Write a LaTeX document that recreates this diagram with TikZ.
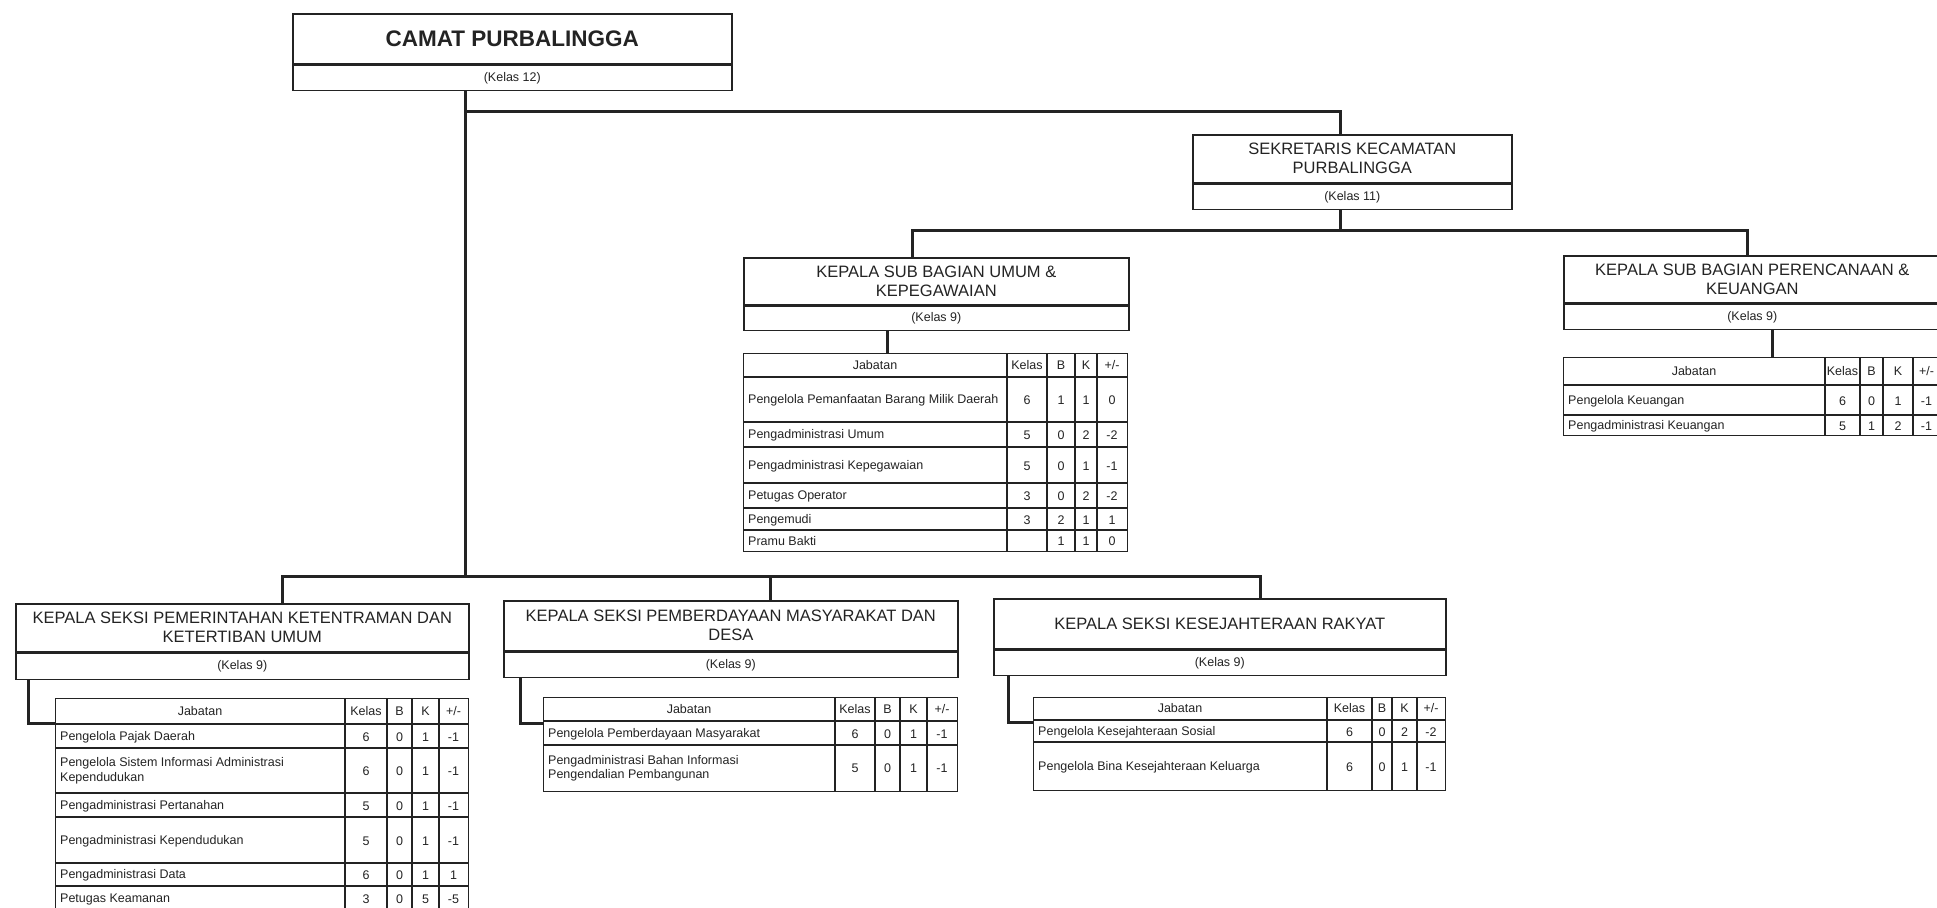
\documentclass[tikz,border=0pt]{standalone}
\usepackage{fontspec}
\setmainfont{Liberation Sans}
\usepackage{tikz}
\usetikzlibrary{positioning}
\definecolor{ink}{RGB}{35,35,35}

\begin{document}
\begin{tikzpicture}[x=1pt,y=-1pt,
  head/.style={draw=ink,line width=1.6pt,anchor=north west,inner sep=0pt,
     align=center,text=ink,font=\fontsize{16.5}{19}\selectfont},
  kls/.style={draw=ink,line width=1.6pt,anchor=north west,inner sep=0pt,
     text=ink,font=\fontsize{12.5}{14}\selectfont},
  link/.style={draw=ink,line width=3pt},
  tframe/.style={draw=ink,line width=1.4pt,anchor=north west,inner sep=0pt},
  tline/.style={draw=ink,line width=1.2pt},
  tsep/.style={draw=ink,line width=2.2pt},
  cell/.style={inner sep=0pt,text=ink,font=\fontsize{12.5}{14.5}\selectfont},
  jab/.style={cell,anchor=west,align=left},
  num/.style={cell,anchor=center}]
\useasboundingbox (0,0) rectangle (1937,907);

% boxes
\node[head,minimum width=439pt,minimum height=50pt,
  font=\bfseries\fontsize{22.5}{26}\selectfont] (camat) at (292,13) {CAMAT PURBALINGGA};
\node[kls,minimum width=439pt,minimum height=25pt] (camatk) at (camat.south west) {(Kelas 12)};
\node[head,minimum width=319pt,minimum height=48pt] (sekr) at (1192,134) {SEKRETARIS KECAMATAN\\PURBALINGGA};
\node[kls,minimum width=319pt,minimum height=25pt] (sekrk) at (sekr.south west) {(Kelas 11)};
\node[head,minimum width=385pt,minimum height=47pt] (umum) at (743,257) {KEPALA SUB BAGIAN UMUM \&\\KEPEGAWAIAN};
\node[kls,minimum width=385pt,minimum height=24pt] (umumk) at (umum.south west) {(Kelas 9)};
\node[head,minimum width=377pt,minimum height=47pt] (keu) at (1563,255) {KEPALA SUB BAGIAN PERENCANAAN \&\\KEUANGAN};
\node[kls,minimum width=377pt,minimum height=25pt] (keuk) at (keu.south west) {(Kelas 9)};
\node[head,minimum width=453pt,minimum height=48pt] (pem) at (15,603) {KEPALA SEKSI PEMERINTAHAN KETENTRAMAN DAN\\KETERTIBAN UMUM};
\node[kls,minimum width=453pt,minimum height=26pt] (pemk) at (pem.south west) {(Kelas 9)};
\node[head,minimum width=454pt,minimum height=50pt] (pmd) at (503,600) {KEPALA SEKSI PEMBERDAYAAN MASYARAKAT DAN\\DESA};
\node[kls,minimum width=454pt,minimum height=25pt] (pmdk) at (pmd.south west) {(Kelas 9)};
\node[head,minimum width=452pt,minimum height=50pt] (kesra) at (993,598) {KEPALA SEKSI KESEJAHTERAAN RAKYAT};
\node[kls,minimum width=452pt,minimum height=25pt] (kesrak) at (kesra.south west) {(Kelas 9)};

% tables (frames)
\node[tframe,minimum width=384pt,minimum height=198pt] (tumum) at (743,353) {};
\node[tframe,minimum width=377pt,minimum height=78pt] (tkeu) at (1563,357) {};
\node[tframe,minimum width=413pt,minimum height=212pt] (tpem) at (55,698) {};
\node[tframe,minimum width=414pt,minimum height=94pt] (tpmd) at (543,697) {};
\node[tframe,minimum width=412pt,minimum height=93pt] (tkesra) at (1033,697) {};

% connectors
\coordinate (trunk) at (465,576);
\coordinate (sx) at (1340,111);
\coordinate (sb) at (1340,230);
\coordinate (ux) at (912,230);
\coordinate (kx) at (1747,230);
\coordinate (lx) at (282,576);
\coordinate (mx) at (770,576);
\coordinate (rx) at (1260,576);
\draw[link] (trunk |- camatk.south) -- (trunk);
\draw[link] (trunk |- sx) -- (sx) -- (sx |- sekr.north);
\draw[link] (sb |- sekrk.south) -- (sb);
\draw[link] (ux |- umum.north) -- (ux) -- (kx) -- (kx |- keu.north);
\draw[link] (lx |- pem.north) -- (lx) -- (rx) -- (rx |- kesra.north);
\draw[link] (mx) -- (mx |- pmd.north);
\coordinate (uc) at (887,340);
\coordinate (kc) at (1772,340);
\draw[link] (uc |- umumk.south) -- (uc |- tumum.north);
\draw[link] (kc |- keuk.south) -- (kc |- tkeu.north);
\coordinate (lb) at (28,723);
\coordinate (mb) at (520,723);
\coordinate (rb) at (1008,722);
\draw[link] (lb |- pemk.south) -- (lb) -- (tpem.west |- lb);
\draw[link] (mb |- pmdk.south) -- (mb) -- (tpmd.west |- mb);
\draw[link] (rb |- kesrak.south) -- (rb) -- (tkesra.west |- rb);

% table umum
\foreach \y in {377,422,447,483,508,530} \draw[tline] (743,\y) -- (1127,\y);
\foreach \x in {1007,1075,1097} \draw[tline] (\x,353) -- (\x,551);
\draw[tsep] (1047,353) -- (1047,551);
\node[num] (tu0) at (875,365) {Jabatan};
\node[num] (tu0-k) at (1027,365) {Kelas};
\node[num] (tu0-b) at (1061,365) {B};
\node[num] (tu0-n) at (1086,365) {K};
\node[num] (tu0-s) at (1112,365) {+/-};
\foreach \yc/\jb/\kl/\bz/\kb/\sl [count=\i] in {
  400.5/{Pengelola Pemanfaatan Barang Milik Daerah}/6/1/1/0,
  435.5/{Pengadministrasi Umum}/5/0/2/-2,
  466/{Pengadministrasi Kepegawaian}/5/0/1/-1,
  496.5/{Petugas Operator}/3/0/2/-2,
  520/{Pengemudi}/3/2/1/1,
  541.5/{Pramu Bakti}/{}/1/1/0}
{
  \node[jab] (tu\i) at (748,\yc) {\jb};
  \node[num] (tu\i-k) at (1027,\yc) {\kl};
  \node[num] (tu\i-b) at (1061,\yc) {\bz};
  \node[num] (tu\i-n) at (1086,\yc) {\kb};
  \node[num] (tu\i-s) at (1112,\yc) {\sl};
}

% table keuangan
\foreach \y in {385,415} \draw[tline] (1563,\y) -- (1940,\y);
\foreach \x in {1860,1883,1913} \draw[tline] (\x,357) -- (\x,435);
\draw[tsep] (1825,357) -- (1825,435);
\node[num] (tk0) at (1694,371) {Jabatan};
\node[num] (tk0-k) at (1842.5,371) {Kelas};
\node[num] (tk0-b) at (1871.5,371) {B};
\node[num] (tk0-n) at (1898,371) {K};
\node[num] (tk0-s) at (1926.5,371) {+/-};
\foreach \yc/\jb/\kl/\bz/\kb/\sl [count=\i] in {
  401/{Pengelola Keuangan}/6/0/1/-1,
  426/{Pengadministrasi Keuangan}/5/1/2/-1}
{
  \node[jab] (tk\i) at (1568,\yc) {\jb};
  \node[num] (tk\i-k) at (1842.5,\yc) {\kl};
  \node[num] (tk\i-b) at (1871.5,\yc) {\bz};
  \node[num] (tk\i-n) at (1898,\yc) {\kb};
  \node[num] (tk\i-s) at (1926.5,\yc) {\sl};
}

% table pemerintahan
\foreach \y in {724,748,793,817,863,886} \draw[tline] (55,\y) -- (468,\y);
\foreach \x in {345,412,439} \draw[tline] (\x,698) -- (\x,910);
\draw[tsep] (387,698) -- (387,910);
\node[num] (tp0) at (200,711) {Jabatan};
\node[num] (tp0-k) at (366,711) {Kelas};
\node[num] (tp0-b) at (399.5,711) {B};
\node[num] (tp0-n) at (425.5,711) {K};
\node[num] (tp0-s) at (453.5,711) {+/-};
\foreach \yc/\jb/\kl/\bz/\kb/\sl [count=\i] in {
  737/{Pengelola Pajak Daerah}/6/0/1/-1,
  771/{Pengelola Sistem Informasi Administrasi\\Kependudukan}/6/0/1/-1,
  806/{Pengadministrasi Pertanahan}/5/0/1/-1,
  841/{Pengadministrasi Kependudukan}/5/0/1/-1,
  875.5/{Pengadministrasi Data}/6/0/1/1,
  899/{Petugas Keamanan}/3/0/5/-5}
{
  \node[jab] (tp\i) at (60,\yc) {\jb};
  \node[num] (tp\i-k) at (366,\yc) {\kl};
  \node[num] (tp\i-b) at (399.5,\yc) {\bz};
  \node[num] (tp\i-n) at (425.5,\yc) {\kb};
  \node[num] (tp\i-s) at (453.5,\yc) {\sl};
}

% table pemberdayaan
\foreach \y in {721,745} \draw[tline] (543,\y) -- (957,\y);
\foreach \x in {835,900,927} \draw[tline] (\x,697) -- (\x,791);
\draw[tsep] (875,697) -- (875,791);
\node[num] (tm0) at (689,709) {Jabatan};
\node[num] (tm0-k) at (855,709) {Kelas};
\node[num] (tm0-b) at (887.5,709) {B};
\node[num] (tm0-n) at (913.5,709) {K};
\node[num] (tm0-s) at (942,709) {+/-};
\foreach \yc/\jb/\kl/\bz/\kb/\sl [count=\i] in {
  734/{Pengelola Pemberdayaan Masyarakat}/6/0/1/-1,
  768.5/{Pengadministrasi Bahan Informasi\\Pengendalian Pembangunan}/5/0/1/-1}
{
  \node[jab] (tm\i) at (548,\yc) {\jb};
  \node[num] (tm\i-k) at (855,\yc) {\kl};
  \node[num] (tm\i-b) at (887.5,\yc) {\bz};
  \node[num] (tm\i-n) at (913.5,\yc) {\kb};
  \node[num] (tm\i-s) at (942,\yc) {\sl};
}

% table kesejahteraan
\foreach \y in {720,742} \draw[tline] (1033,\y) -- (1445,\y);
\foreach \x in {1327,1392,1417} \draw[tline] (\x,697) -- (\x,790);
\draw[tsep] (1372,697) -- (1372,790);
\node[num] (tr0) at (1180,708.5) {Jabatan};
\node[num] (tr0-k) at (1349.5,708.5) {Kelas};
\node[num] (tr0-b) at (1382,708.5) {B};
\node[num] (tr0-n) at (1404.5,708.5) {K};
\node[num] (tr0-s) at (1431,708.5) {+/-};
\foreach \yc/\jb/\kl/\bz/\kb/\sl [count=\i] in {
  732/{Pengelola Kesejahteraan Sosial}/6/0/2/-2,
  767/{Pengelola Bina Kesejahteraan Keluarga}/6/0/1/-1}
{
  \node[jab] (tr\i) at (1038,\yc) {\jb};
  \node[num] (tr\i-k) at (1349.5,\yc) {\kl};
  \node[num] (tr\i-b) at (1382,\yc) {\bz};
  \node[num] (tr\i-n) at (1404.5,\yc) {\kb};
  \node[num] (tr\i-s) at (1431,\yc) {\sl};
}
\end{tikzpicture}
\end{document}
